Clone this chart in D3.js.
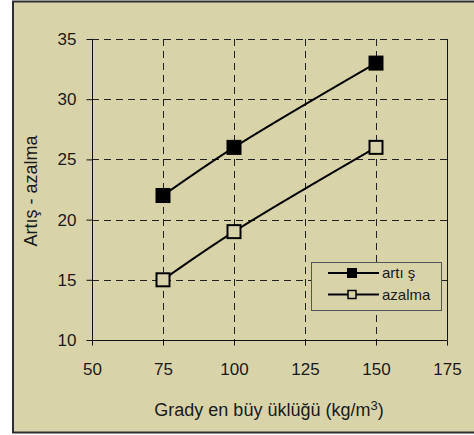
<!DOCTYPE html>
<html>
<head>
<meta charset="utf-8">
<script src="https://cdn.jsdelivr.net/npm/d3@7"></script>
<style>
  html, body { margin: 0; padding: 0; background: #ffffff; }
  svg { display: block; }
  text { font-family: "Liberation Sans", Arial, sans-serif; fill: #1a1a1a; }
</style>
</head>
<body>
<svg id="chart" width="474" height="435"></svg>
<script>
// Gradient size (kg/m³) and the increase / decrease values
const gradients = [75, 100, 150];
const artisValues = [22, 26, 33];
const azalmaValues = [15, 19, 26];
const xTicks = [50, 75, 100, 125, 150, 175];
const yTicks = [10, 15, 20, 25, 30, 35];
const seriesNames = ["artı ş", "azalma"];

const svg = d3.select("#chart");
const bg = "#d9d3aa";

// outer panel
svg.append("rect")
  .attr("x", 13).attr("y", 1.5).attr("width", 470).attr("height", 431)
  .attr("fill", bg).attr("stroke", "#2e2e2e").attr("stroke-width", 2);

const plot = { left: 92, right: 447, top: 39, bottom: 340 };

const x = d3.scaleLinear().domain([50, 175]).range([plot.left, plot.right]);
const y = d3.scaleLinear().domain([10, 35]).range([plot.bottom, plot.top]);

// dashed grid
const grid = svg.append("g").attr("stroke", "#222").attr("stroke-width", 1)
  .attr("stroke-dasharray", "7,5");
grid.selectAll("line.v").data(xTicks.filter(d => d > 50 && d < 175)).enter().append("line")
  .attr("x1", d => Math.round(x(d)) + 0.5).attr("x2", d => Math.round(x(d)) + 0.5)
  .attr("y1", plot.top).attr("y2", plot.bottom);
grid.selectAll("line.h").data(yTicks.filter(d => d > 10)).enter().append("line")
  .attr("y1", d => Math.round(y(d)) + 0.5).attr("y2", d => Math.round(y(d)) + 0.5)
  .attr("x1", plot.left).attr("x2", plot.right);

// right border of the plot area
svg.append("line")
  .attr("x1", plot.right + 0.5).attr("x2", plot.right + 0.5)
  .attr("y1", plot.top).attr("y2", plot.bottom)
  .attr("stroke", "#111").attr("stroke-width", 1);

// axes
const xAxis = d3.axisBottom(x).tickValues(xTicks).tickSize(5).tickPadding(17);
const yAxis = d3.axisLeft(y).tickValues(yTicks).tickSize(6).tickPadding(10);

const gx = svg.append("g").attr("transform", `translate(0,${plot.bottom + 0.5})`).call(xAxis);
const gy = svg.append("g").attr("transform", `translate(${plot.left + 0.5},0)`).call(yAxis);
[gx, gy].forEach(g => {
  g.select(".domain").attr("stroke", "#111").attr("stroke-width", 1);
  g.selectAll(".tick line").attr("stroke", "#111");
  g.selectAll(".tick text")
    .style("font-family", "'Liberation Sans', Arial, sans-serif")
    .style("font-size", "17px").attr("fill", "#1a1a1a");
});
gx.select(".domain").attr("d", `M${plot.left},0H${plot.right + 0.5}`);
gy.select(".domain").attr("d", `M0,${plot.top}V${plot.bottom}`);

// axis titles
const xTitle = svg.append("text")
  .attr("x", 269).attr("y", 416).attr("text-anchor", "middle")
  .style("font-size", "18px");
xTitle.append("tspan").text("Grady en büy üklüğü (kg/m");
xTitle.append("tspan").attr("dy", -6).style("font-size", "13px").text("3");
xTitle.append("tspan").attr("dy", 6).text(")");

svg.append("text")
  .attr("transform", "translate(37,191) rotate(-90)")
  .attr("text-anchor", "middle")
  .style("font-size", "18px")
  .text("Artış - azalma");

// series lines
const line = d3.line()
  .x((d, i) => x(gradients[i]))
  .y(d => y(d))
  .curve(d3.curveCatmullRom);

const series = [
  { name: seriesNames[0], values: artisValues, filled: true },
  { name: seriesNames[1], values: azalmaValues, filled: false }
];

series.forEach(s => {
  svg.append("path")
    .attr("d", line(s.values))
    .attr("fill", "none").attr("stroke", "#000").attr("stroke-width", 2);
});

series.forEach(s => {
  const size = s.filled ? 14 : 13;
  svg.selectAll(null).data(s.values).enter().append("rect")
    .attr("x", (d, i) => x(gradients[i]) - size / 2)
    .attr("y", d => y(d) - size / 2)
    .attr("width", size).attr("height", size)
    .attr("fill", s.filled ? "#000" : bg)
    .attr("stroke", "#000").attr("stroke-width", s.filled ? 1 : 2);
});

// legend
const lg = svg.append("g");
lg.append("rect")
  .attr("x", 311.5).attr("y", 262.5).attr("width", 130).attr("height", 48)
  .attr("fill", bg).attr("stroke", "#555").attr("stroke-width", 1);
series.forEach((s, i) => {
  const cy = 273 + i * 21.5;
  lg.append("line")
    .attr("x1", 328).attr("x2", 379).attr("y1", cy).attr("y2", cy)
    .attr("stroke", "#000").attr("stroke-width", 2);
  const sz = s.filled ? 9 : 8;
  lg.append("rect")
    .attr("x", 352 - sz / 2).attr("y", cy - sz / 2)
    .attr("width", sz).attr("height", sz)
    .attr("fill", s.filled ? "#000" : bg)
    .attr("stroke", "#000").attr("stroke-width", s.filled ? 1 : 1.5);
  lg.append("text")
    .attr("x", 382).attr("y", cy + 5)
    .style("font-size", "15px")
    .text(s.name);
});
</script>
</body>
</html>
